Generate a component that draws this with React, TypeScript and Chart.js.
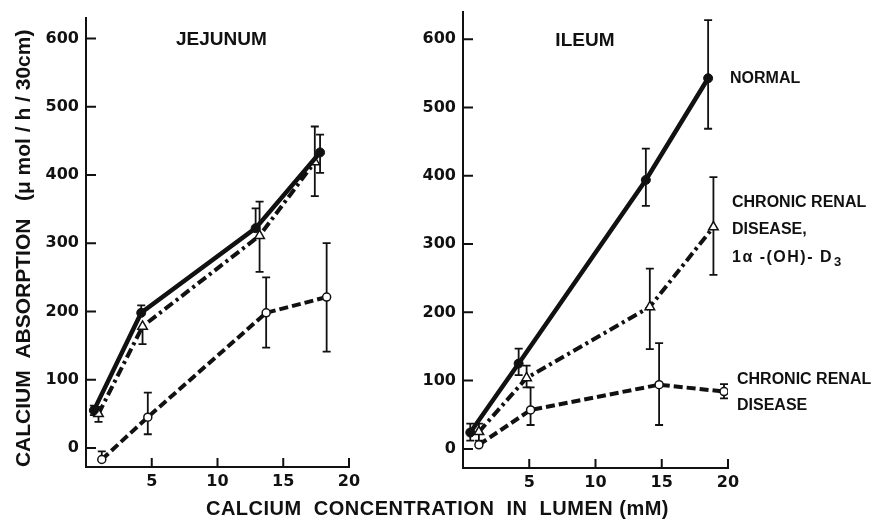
import React, { useEffect, useRef } from "react";
import { Chart, registerables } from "chart.js";
Chart.register(...registerables);

// ---- tick values ----
const xTickValues = [5, 10, 15, 20];
const yTickValues = [0, 100, 200, 300, 400, 500, 600];

// ---- Jejunum ----
const jejNormalX = [0.6, 4.2, 12.9, 17.8];
const jejNormalY = [55, 198, 322, 433];
const jejNormalHi = [62, 209, 351, 459];
const jejNormalLo = [48, 198, 322, 403];

const jejD3X = [0.95, 4.3, 13.2, 17.4];
const jejD3Y = [50, 178, 311, 419];
const jejD3Hi = [60, 178, 361, 471];
const jejD3Lo = [38, 152, 258, 369];

const jejCrdX = [1.2, 4.7, 13.7, 18.3];
const jejCrdY = [-17, 45, 198, 221];
const jejCrdHi = [-5, 81, 250, 300];
const jejCrdLo = [-17, 20, 147, 141];

// ---- Ileum ----
const ileNormalX = [0.55, 4.2, 13.8, 18.5];
const ileNormalY = [24, 125, 394, 543];
const ileNormalHi = [37, 147, 440, 628];
const ileNormalLo = [12, 108, 356, 469];

const ileD3X = [1.2, 4.8, 14.1, 18.9];
const ileD3Y = [25, 104, 208, 325];
const ileD3Hi = [37, 122, 264, 398];
const ileD3Lo = [12, 90, 146, 255];

const ileCrdX = [1.2, 5.1, 14.8, 19.7];
const ileCrdY = [6, 57, 94, 84];
const ileCrdHi = [6, 90, 155, 95];
const ileCrdLo = [6, 35, 35, 74];

// ---- texts ----
const jejTitle = "JEJUNUM";
const ileTitle = "ILEUM";
const normalLabel = ["NORMAL"];
const d3Label = ["CHRONIC RENAL", "DISEASE,", "1\u03b1 -(OH)- D|3"];
const crdLabel = ["CHRONIC RENAL", "DISEASE"];
const yTitle = "CALCIUM  ABSORPTION   (\u03bc mol / h / 30cm)  ";
const xTitle = "CALCIUM  CONCENTRATION  IN  LUMEN (mM)";

const INK = "#111";
const tickFont = { family: "'DejaVu Sans'", weight: "bold" as const, size: 16 };

type Kind = "normal" | "d3" | "crd";

function makeDataset(xs: number[], ys: number[], hi: number[], lo: number[], kind: Kind, label?: string[], labelDx = 2, labelDy = 0, labelGap = 27) {
  const base: any = {
    data: xs.map((x, i) => ({ x, y: ys[i] })),
    errHi: hi,
    errLo: lo,
    endLabel: label,
    labelDx,
    labelDy,
    labelGap,
    showLine: true,
    tension: 0,
    borderColor: INK,
    pointBorderColor: INK,
    borderCapStyle: "butt",
  };
  if (kind === "normal") {
    Object.assign(base, { borderWidth: 4.5, pointStyle: "circle", pointRadius: 4.5, pointBackgroundColor: INK, pointBorderWidth: 1 });
  } else if (kind === "d3") {
    Object.assign(base, { borderWidth: 4, borderDash: [10, 4, 3, 4], pointStyle: "triangle", pointRadius: 5.5, pointBackgroundColor: "#fff", pointBorderWidth: 1.5 });
  } else {
    Object.assign(base, { borderWidth: 4, borderDash: [9, 4], pointStyle: "circle", pointRadius: 4, pointBackgroundColor: "#fff", pointBorderWidth: 1.5 });
  }
  return base;
}

const errorBarPlugin = {
  id: "errbars",
  beforeDatasetsDraw(chart: any) {
    const { ctx, scales } = chart;
    const x = scales.x, y = scales.y;
    ctx.save();
    ctx.strokeStyle = INK;
    ctx.lineWidth = 1.8;
    chart.data.datasets.forEach((d: any) => {
      d.data.forEach((p: any, i: number) => {
        const px = x.getPixelForValue(p.x);
        const yh = y.getPixelForValue(d.errHi[i]);
        const yl = y.getPixelForValue(d.errLo[i]);
        ctx.beginPath();
        ctx.moveTo(px, yh);
        ctx.lineTo(px, yl);
        if (d.errHi[i] > p.y) { ctx.moveTo(px - 4, yh); ctx.lineTo(px + 4, yh); }
        if (d.errLo[i] < p.y) { ctx.moveTo(px - 4, yl); ctx.lineTo(px + 4, yl); }
        ctx.stroke();
      });
    });
    // inward tick marks
    const area = chart.chartArea;
    ctx.lineWidth = 2;
    ctx.beginPath();
    yTickValues.forEach((v) => {
      const py = y.getPixelForValue(v);
      ctx.moveTo(area.left, py);
      ctx.lineTo(area.left + 10, py);
    });
    xTickValues.forEach((v) => {
      const px = x.getPixelForValue(v);
      ctx.moveTo(px, area.bottom);
      ctx.lineTo(px, area.bottom - 9);
    });
    ctx.stroke();
    ctx.restore();
  },
  afterDraw(chart: any) {
    const { ctx, scales } = chart;
    const x = scales.x, y = scales.y;
    const opts = chart.options.plugins.panelText || {};
    ctx.save();
    ctx.fillStyle = INK;
    if (opts.title) {
      ctx.font = "bold 19px 'Liberation Sans'";
      ctx.textAlign = "center";
      ctx.textBaseline = "middle";
      ctx.fillText(opts.title, x.getPixelForValue(opts.titleX), y.getPixelForValue(600) + 1);
    }
    // end labels
    ctx.textAlign = "left";
    ctx.textBaseline = "middle";
    chart.data.datasets.forEach((d: any) => {
      if (!d.endLabel) return;
      const last = d.data[d.data.length - 1];
      const cy = y.getPixelForValue(last.y) + d.labelDy;
      const lx = chart.chartArea.right + d.labelDx;
      const n = d.endLabel.length;
      d.endLabel.forEach((line: string, k: number) => {
        const ly = cy + (k - (n - 1) / 2) * d.labelGap;
        const parts = line.split("|");
        ctx.font = "bold 16px 'Liberation Sans'";
        (ctx as any).letterSpacing = parts.length > 1 ? "1.5px" : "0px";
        ctx.fillText(parts[0], lx, ly);
        if (parts.length > 1) {
          const w = ctx.measureText(parts[0]).width;
          ctx.font = "bold 13px 'Liberation Sans'";
          ctx.fillText(parts[1], lx + w + 1, ly + 5);
        }
        (ctx as any).letterSpacing = "0px";
      });
    });
    if (opts.xTitle) {
      ctx.font = "bold 20px 'Liberation Sans'";
      (ctx as any).letterSpacing = "0.5px";
      ctx.textAlign = "center";
      ctx.textBaseline = "middle";
      ctx.fillText(opts.xTitle, chart.width / 2, 509);
      (ctx as any).letterSpacing = "0px";
    }
    ctx.restore();
  },
};

function makeConfig(
  datasets: any[],
  padding: any,
  yMax: number,
  yWidth: number,
  xHeight: number,
  panelText: any,
  withYTitle: boolean
): any {
  return {
    type: "scatter",
    data: { datasets },
    plugins: [errorBarPlugin],
    options: {
      animation: false,
      responsive: false,
      events: [],
      layout: { padding },
      plugins: {
        legend: { display: false },
        tooltip: { enabled: false },
        panelText,
      },
      elements: { line: { fill: false } },
      scales: {
        x: {
          type: "linear",
          min: 0,
          max: 20,
          afterBuildTicks: (s: any) => { s.ticks = xTickValues.map((v) => ({ value: v })); },
          afterFit: (s: any) => { s.height = xHeight; s.paddingLeft = 0; s.paddingRight = 0; },
          grid: { display: false, drawTicks: false },
          border: { display: true, width: 2, color: INK },
          ticks: { font: tickFont, color: INK, padding: 5, maxRotation: 0, autoSkip: false },
        },
        y: {
          type: "linear",
          min: -28,
          max: yMax,
          afterBuildTicks: (s: any) => { s.ticks = yTickValues.map((v) => ({ value: v })); },
          afterFit: (s: any) => { s.width = yWidth; s.paddingTop = 0; s.paddingBottom = 0; },
          grid: { display: false, drawTicks: false },
          border: { display: true, width: 2, color: INK },
          ticks: { font: tickFont, color: INK, padding: 7, autoSkip: false },
          title: withYTitle
            ? {
                display: true,
                text: yTitle,
                color: INK,
                font: { family: "'Liberation Sans'", weight: "bold", size: 21 },
                padding: { top: 12, bottom: 0 },
              }
            : { display: false },
        },
      },
    },
  };
}

export default function App() {
  const leftRef = useRef<HTMLCanvasElement>(null);
  const rightRef = useRef<HTMLCanvasElement>(null);

  useEffect(() => {
    const left = new Chart(
      leftRef.current as HTMLCanvasElement,
      makeConfig(
        [
          makeDataset(jejNormalX, jejNormalY, jejNormalHi, jejNormalLo, "normal"),
          makeDataset(jejD3X, jejD3Y, jejD3Hi, jejD3Lo, "d3"),
          makeDataset(jejCrdX, jejCrdY, jejCrdHi, jejCrdLo, "crd"),
        ],
        { left: 0, top: 18, right: 526, bottom: 0 },
        630,
        86,
        54,
        { title: jejTitle, titleX: 10.3, xTitle },
        true
      )
    );
    const right = new Chart(
      rightRef.current as HTMLCanvasElement,
      makeConfig(
        [
          makeDataset(ileNormalX, ileNormalY, ileNormalHi, ileNormalLo, "normal", normalLabel, 2, 0, 27),
          makeDataset(ileD3X, ileD3Y, ileD3Hi, ileD3Lo, "d3", d3Label, 4, 3, 27.5),
          makeDataset(ileCrdX, ileCrdY, ileCrdHi, ileCrdLo, "crd", crdLabel, 9, 1, 25.5),
        ],
        { left: 403, top: 12, right: 147, bottom: 0 },
        640,
        60,
        53,
        { title: ileTitle, titleX: 9.2 },
        false
      )
    );
    return () => {
      left.destroy();
      right.destroy();
    };
  }, []);

  return (
    <div style={{ position: "absolute", left: 0, top: 0, width: 875, height: 521, background: "#fff" }}>
      <canvas ref={leftRef} width={875} height={521} style={{ position: "absolute", left: 0, top: 0 }} />
      <canvas ref={rightRef} width={875} height={521} style={{ position: "absolute", left: 0, top: 0 }} />
    </div>
  );
}
